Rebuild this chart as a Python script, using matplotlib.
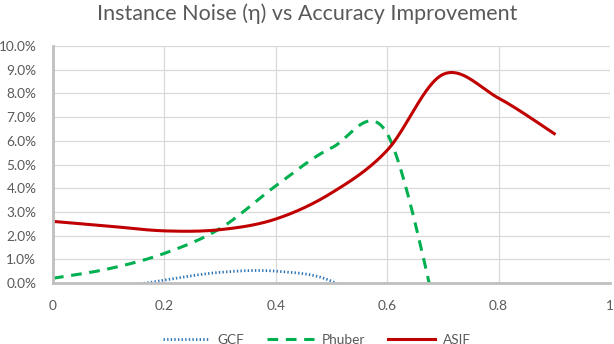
import numpy as np
import matplotlib
matplotlib.use("Agg")
import matplotlib.pyplot as plt
from matplotlib.lines import Line2D

plt.rcParams['font.family'] = ['Lato', 'DejaVu Sans']

noise = [0.0, 0.1, 0.2, 0.3, 0.4, 0.5, 0.6, 0.7, 0.8, 0.9]
gcf = [-1.0, -0.3, 0.12, 0.45, 0.5, 0.08, -1.5, np.nan, np.nan, np.nan]
phuber = [0.2, 0.6, 1.25, 2.3, 4.1, 5.7, 6.3, -2.5, np.nan, np.nan]
asif = [2.6, 2.4, 2.2, 2.25, 2.7, 3.8, 5.6, 8.8, 7.8, 6.3]

series_names = ["GCF", "Phuber", "ASIF"]
x_ticks = [0, 0.2, 0.4, 0.6, 0.8, 1]
x_tick_labels = ["0", "0.2", "0.4", "0.6", "0.8", "1"]
y_ticks = list(range(0, 11))
y_tick_labels = [f"{v:.1f}%" for v in y_ticks]
title = "Instance Noise (\u03b7) vs Accuracy Improvement"


def smooth(xs, ys, n=40):
    pts = [(a, b) for a, b in zip(xs, ys) if not np.isnan(b)]
    P = np.array(pts, dtype=float)
    out = []
    m = len(P)
    for i in range(m - 1):
        p0 = P[i - 1] if i > 0 else P[i]
        p1 = P[i]
        p2 = P[i + 1]
        p3 = P[i + 2] if i + 2 < m else P[i + 1]
        c1 = p1 + (p2 - p0) / 6.0
        c2 = p2 - (p3 - p1) / 6.0
        t = np.linspace(0, 1, n)[:, None]
        seg = ((1 - t) ** 3) * p1 + 3 * ((1 - t) ** 2) * t * c1 + 3 * (1 - t) * t ** 2 * c2 + t ** 3 * p2
        out.append(seg if i == 0 else seg[1:])
    S = np.vstack(out)
    return S[:, 0], S[:, 1]


fig = plt.figure(figsize=(6.14, 3.44), dpi=100)
ax = fig.add_axes([53 / 614, 1 - 283 / 344, (610 - 53) / 614, (283 - 46) / 344])

grid_c = "#D9D9D9"
text_c = "#595959"

for yv in y_ticks[1:]:
    ax.axhline(yv, color=grid_c, lw=0.9, zorder=1)
for xv in x_ticks[1:]:
    ax.axvline(xv, color=grid_c, lw=0.9, zorder=1)

gcf_style = dict(color="#2E75B6", lw=2.0, linestyle=(0, (0.5, 0.8)))
phu_style = dict(color="#00B050", lw=2.2, linestyle=(0, (3.5, 2.5)))
asif_style = dict(color="#C00000", lw=2.2)

sx, sy = smooth(noise, gcf)
ax.plot(sx, sy, zorder=3, **gcf_style)
sx, sy = smooth(noise, phuber)
ax.plot(sx, sy, zorder=3, **phu_style)
sx, sy = smooth(noise, asif)
ax.plot(sx, sy, zorder=4, **asif_style)

ax.set_xlim(0, 1)
ax.set_ylim(0, 10)
ax.set_xticks(x_ticks)
ax.set_xticklabels(x_tick_labels)
ax.set_yticks(y_ticks)
ax.set_yticklabels(y_tick_labels)
ax.tick_params(axis='both', length=0, labelsize=9.8, colors=text_c)
ax.tick_params(axis='x', pad=12)
ax.tick_params(axis='y', pad=12)

for s in ["top", "right"]:
    ax.spines[s].set_visible(False)
for s in ["left", "bottom"]:
    ax.spines[s].set_color("#BFBFBF")
    ax.spines[s].set_linewidth(2.0)
    ax.spines[s].set_zorder(5)

fig.text(0.5, 1 - 14 / 344, title, ha="center", va="center", fontsize=15.5, color=text_c)

handles = [Line2D([], [], **gcf_style), Line2D([], [], **phu_style), Line2D([], [], **asif_style)]
leg = fig.legend(handles, series_names, loc="center", bbox_to_anchor=(0.516, 1 - 340 / 344),
                 ncol=3, frameon=False, fontsize=9.8, handlelength=3.4, columnspacing=1.7,
                 handletextpad=0.6)
for t in leg.get_texts():
    t.set_color(text_c)

fig.savefig("out.png", dpi=100)
